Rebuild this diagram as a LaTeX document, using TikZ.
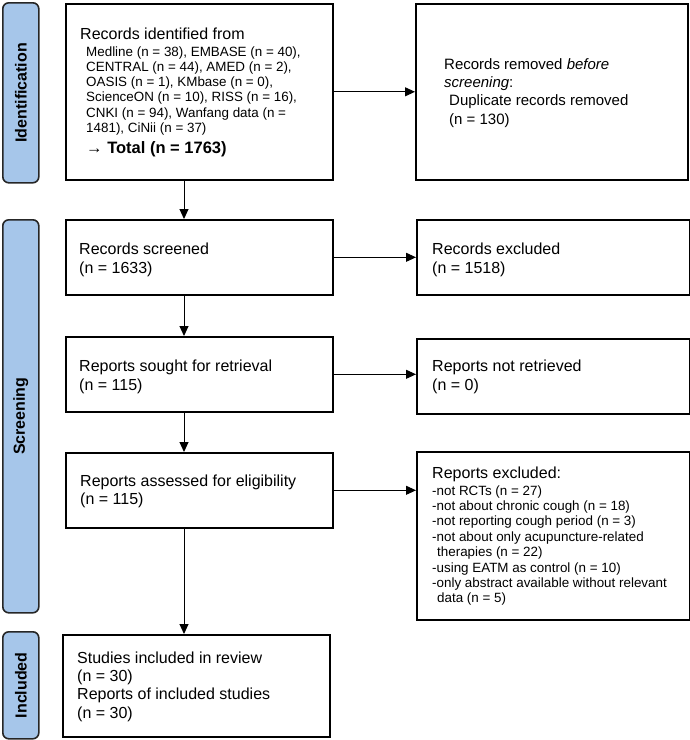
\documentclass[tikz,border=0pt]{standalone}
\usepackage{fontspec}
\setmainfont{Liberation Sans}
\usetikzlibrary{arrows.meta}
\definecolor{barblue}{RGB}{166,198,234}
\begin{document}
\begin{tikzpicture}[x=1pt,y=-1pt,
  box/.style={draw=black,line width=1.6pt,minimum width=267pt,inner sep=0pt,anchor=north west},
  bar/.style={draw=black!85,fill=barblue,line width=1.6pt,rounded corners=6pt,minimum width=36pt,inner sep=0pt,anchor=north west},
  barlbl/.style={rotate=90,font=\fontsize{16}{18}\selectfont\bfseries},
  txt/.style={inner sep=0pt,anchor=base west,align=left,font=\fontsize{16}{18.5}\selectfont},
  small/.style={inner sep=0pt,anchor=base west,align=left,font=\fontsize{13.4}{15.3}\selectfont},
  arr/.style={draw=black,line width=1pt,-{Triangle[length=10pt,width=9pt]}}]
\useasboundingbox (0,0) rectangle (690,740);
% side bars
\node[bar,minimum height=180pt] (bid) at (2,2) {};
\node[barlbl] (lid) at (bid.center) {Identification};
\node[bar,minimum height=393pt] (bsc) at (2,219) {};
\node[barlbl] (lsc) at (bsc.center) {Screening};
\node[bar,minimum height=107pt] (bin) at (2,631) {};
\node[barlbl] (lin) at (bin.center) {Included};
% boxes
\node[box,minimum height=176pt] (id) at (65,3) {};
\node[box,minimum height=176pt,minimum width=272pt] (rem) at (415,3) {};
\node[box,minimum height=75pt] (scr) at (65,219) {};
\node[box,minimum height=75pt,minimum width=273pt] (exc) at (416,219) {};
\node[box,minimum height=75pt] (sou) at (65,336) {};
\node[box,minimum height=75pt,minimum width=273pt] (nre) at (416,338) {};
\node[box,minimum height=75pt] (ass) at (65,452) {};
\node[box,minimum height=168pt,minimum width=273pt] (rex) at (416,451) {};
\node[box,minimum height=102pt] (inc) at (62,634) {};
% texts (anchored at the baseline of the last line)
\node[txt] (tid) at (80,39) {Records identified from};
\node[small] (tsrc) at (86,132.5) {Medline (n = 38), EMBASE (n = 40),\\CENTRAL (n = 44), AMED (n = 2),\\OASIS (n = 1), KMbase (n = 0),\\ScienceON (n = 10), RISS (n = 16),\\CNKI (n = 94), Wanfang data (n =\\1481), CiNii (n = 37)};
\node[txt,font=\fontsize{16.5}{18}\selectfont\bfseries] (ttot) at (86,153) {→ Total (n = 1763)};
\node[txt,font=\fontsize{15}{18.3}\selectfont] (trem) at (444,124) {Records removed \textit{before}\\\textit{screening}:\\\hspace{5pt}Duplicate records removed\\\hspace{5pt}(n = 130)};
\node[txt,font=\fontsize{16}{19}\selectfont] (tscr) at (79,273) {Records screened\\(n = 1633)};
\node[txt,font=\fontsize{16}{19}\selectfont] (texc) at (432,273) {Records excluded\\(n = 1518)};
\node[txt,font=\fontsize{16}{19}\selectfont] (tsou) at (79,390) {Reports sought for retrieval\\(n = 115)};
\node[txt,font=\fontsize{16}{19}\selectfont] (tnre) at (432,390) {Reports not retrieved\\(n = 0)};
\node[txt] (tass) at (80,504.5) {Reports assessed for eligibility\\(n = 115)};
\node[txt] (trexh) at (432,478) {Reports excluded:};
\node[small,font=\fontsize{13.4}{15.4}\selectfont] (trex) at (432,602.8) {-not RCTs (n = 27)\\-not about chronic cough (n = 18)\\-not reporting cough period (n = 3)\\-not about only acupuncture-related\\\hspace{5pt}therapies (n = 22)\\-using EATM as control (n = 10)\\-only abstract available without relevant\\\hspace{5pt}data (n = 5)};
\node[txt,font=\fontsize{16}{18.4}\selectfont] (tinc) at (77,718.2) {Studies included in review\\(n = 30)\\Reports of included studies\\(n = 30)};
% connectors
\coordinate (vx) at (184,0);
\draw[arr] (id.east) -- (rem.west);
\draw[arr] (vx |- id.south) -- (vx |- scr.north);
\draw[arr] (scr.east) -- (exc.west |- scr.east);
\draw[arr] (vx |- scr.south) -- (vx |- sou.north);
\draw[arr] (sou.east) -- (nre.west |- sou.east);
\draw[arr] (vx |- sou.south) -- (vx |- ass.north);
\draw[arr] (ass.east) -- (rex.west |- ass.east);
\draw[arr] (vx |- ass.south) -- (vx |- inc.north);
\end{tikzpicture}
\end{document}
